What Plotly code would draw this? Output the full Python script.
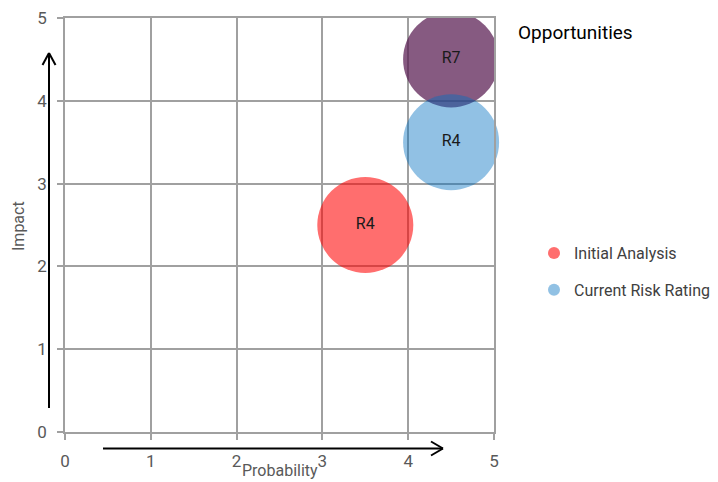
import plotly.graph_objects as go

# Risk bubbles: probability (x), impact (y)
initial_labels = ["R4", "R7"]
initial_prob = [3.5, 4.5]
initial_impact = [2.5, 4.5]
initial_colors = ["rgba(255,0,0,0.57)", "rgba(88,26,81,0.72)"]

current_labels = ["R4"]
current_prob = [4.5]
current_impact = [3.5]

tick_vals = [0, 1, 2, 3, 4, 5]

FONT = "Roboto, Liberation Sans, sans-serif"
W, H = 718, 482
L, R, T, B = 65, 224, 18, 50
PW, PH = W - L - R, H - T - B


def px(x, y):
    """pixel position -> paper coordinates"""
    return (x - L) / PW, (H - B - y) / PH


fig = go.Figure()

fig.add_trace(go.Scatter(
    x=initial_prob, y=initial_impact, text=initial_labels,
    mode="markers+text", name="Initial Analysis",
    marker=dict(size=96, color=initial_colors, line=dict(width=0)),
    textfont=dict(family=FONT, size=16, color="#1a1a1a"),
    textposition="middle center", cliponaxis=True,
    legendgroup="a",
))
fig.add_trace(go.Scatter(
    x=current_prob, y=current_impact, text=current_labels,
    mode="markers+text", name="Current Risk Rating",
    marker=dict(size=96, color="rgba(0,112,192,0.43)", line=dict(width=0)),
    textfont=dict(family=FONT, size=16, color="#1a1a1a"),
    textposition="middle center", cliponaxis=False,
    legendgroup="b",
))

axis_common = dict(
    range=[0, 5], tickvals=tick_vals, showgrid=True, gridcolor="#a0a0a0",
    gridwidth=1.6, showline=True, linecolor="#a0a0a0", linewidth=1.6,
    mirror=True, ticks="outside", ticklen=6, tickcolor="#a0a0a0",
    tickwidth=1.6, zeroline=False, ticklabelstandoff=7,
    tickfont=dict(family=FONT, size=17, color="#595959"),
)
fig.update_xaxes(**axis_common)
fig.update_yaxes(**axis_common)

# Direction arrows alongside the axes
def seg(p0, p1):
    x0, y0 = px(*p0)
    x1, y1 = px(*p1)
    return dict(type="line", xref="paper", yref="paper", x0=x0, y0=y0,
                x1=x1, y1=y1, line=dict(color="black", width=2))

shapes = [
    seg((103, 448.5), (443, 448.5)),
    seg((443, 448.5), (431, 441.5)),
    seg((443, 448.5), (431, 455.5)),
    seg((49, 408), (49, 53)),
    seg((49, 53), (42.5, 65)),
    seg((49, 53), (55.5, 65)),
]

ax_x, ax_y = px(280, 470)
ay_x, ay_y = px(18, 226)
t_x, t_y = px(516, 32)
annotations = [
    dict(text="Probability", x=ax_x, y=ax_y, xref="paper", yref="paper",
         xanchor="center", yanchor="middle", showarrow=False,
         font=dict(family=FONT, size=16, color="#595959")),
    dict(text="Impact", x=ay_x, y=ay_y, xref="paper", yref="paper",
         xanchor="center", yanchor="middle", textangle=-90, showarrow=False,
         font=dict(family=FONT, size=16, color="#595959")),
    dict(text="Opportunities", x=t_x, y=t_y, xref="paper", yref="paper",
         xanchor="left", yanchor="middle", showarrow=False,
         font=dict(family=FONT, size=19, color="black")),
]

lg_x, lg_y = px(534, 236)
fig.update_layout(
    width=W, height=H,
    margin=dict(l=L, r=R, t=T, b=B, autoexpand=False),
    paper_bgcolor="white", plot_bgcolor="white",
    shapes=shapes, annotations=annotations,
    showlegend=True,
    legend=dict(x=lg_x, y=lg_y, xanchor="left", yanchor="top",
                itemsizing="constant", tracegroupgap=13,
                font=dict(family=FONT, size=16, color="#404040"),
                bgcolor="rgba(0,0,0,0)"),
)

fig.write_html("out.html")
